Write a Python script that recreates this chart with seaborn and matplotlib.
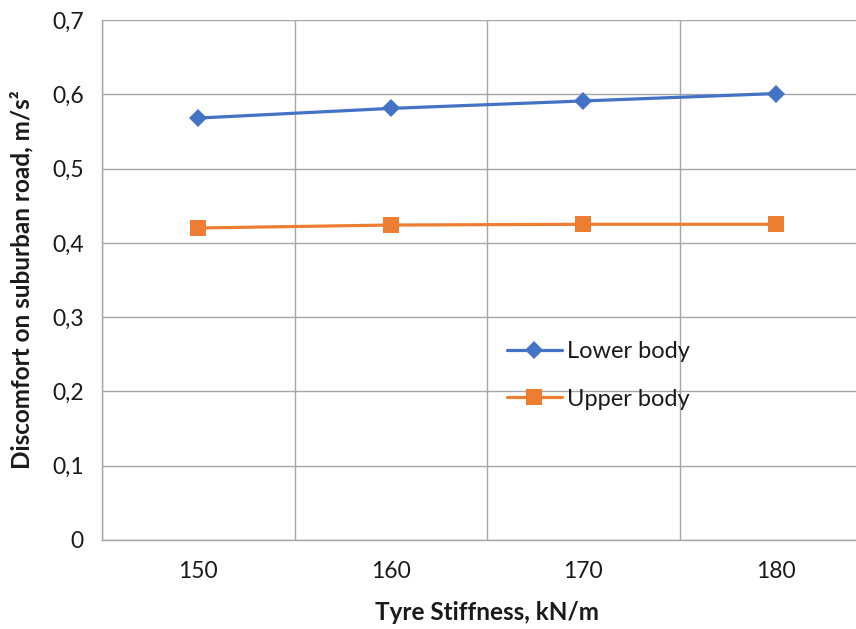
import matplotlib
matplotlib.use("Agg")
import matplotlib.pyplot as plt
import seaborn as sns
import pandas as pd
from matplotlib.ticker import FixedLocator, FixedFormatter

stiffness = [150, 160, 170, 180]
lower_body = [0.568, 0.581, 0.591, 0.601]
upper_body = [0.420, 0.424, 0.425, 0.425]
y_ticks = [0, 0.1, 0.2, 0.3, 0.4, 0.5, 0.6, 0.7]
y_tick_labels = ["0", "0,1", "0,2", "0,3", "0,4", "0,5", "0,6", "0,7"]
x_tick_labels = ["150", "160", "170", "180"]
series_names = ["Lower body", "Upper body"]

sns.set_style("white")
plt.rcParams['font.family'] = ['Lato', 'DejaVu Sans']

df = pd.DataFrame({
    "x": stiffness * 2,
    "y": lower_body + upper_body,
    "series": [series_names[0]] * 4 + [series_names[1]] * 4,
})

fig = plt.figure(figsize=(8.56, 6.29), dpi=100)
ax = fig.add_axes([102 / 856, 89 / 629, 770 / 856, 520 / 629])

blue = "#4472C4"
orange = "#ED7D31"
sns.lineplot(data=df[df.series == series_names[0]], x="x", y="y", ax=ax,
             color=blue, marker="D", markersize=9, linewidth=2.3,
             markeredgewidth=0, label=series_names[0])
sns.lineplot(data=df[df.series == series_names[1]], x="x", y="y", ax=ax,
             color=orange, marker="s", markersize=12, linewidth=2.3,
             markeredgewidth=0, label=series_names[1])

ax.set_xlim(145, 185)
ax.set_ylim(0, 0.7)
grid_color = "#A6A6A6"
text_color = "#1a1a1a"
ax.xaxis.set_major_locator(FixedLocator([145, 155, 165, 175]))
ax.xaxis.set_major_formatter(FixedFormatter(["", "", "", ""]))
ax.xaxis.set_minor_locator(FixedLocator(stiffness))
ax.xaxis.set_minor_formatter(FixedFormatter(x_tick_labels))
ax.tick_params(axis="x", which="major", length=7, width=1, color=grid_color, direction="out")
ax.tick_params(axis="x", which="minor", length=0, labelsize=16.5, pad=15, labelcolor=text_color)
ax.yaxis.set_major_locator(FixedLocator(y_ticks))
ax.yaxis.set_major_formatter(FixedFormatter(y_tick_labels))
ax.tick_params(axis="y", which="major", length=7, width=1, color=grid_color, direction="out",
               labelsize=16.5, pad=6, labelcolor=text_color)
ax.grid(True, which="major", color=grid_color, linewidth=1)
for s in ["top", "right"]:
    ax.spines[s].set_visible(False)
for s in ["left", "bottom"]:
    ax.spines[s].set_color(grid_color)
    ax.spines[s].set_linewidth(1)

ax.set_xlabel("Tyre Stiffness, kN/m", fontsize=17.5, fontweight="bold", color=text_color)
ax.set_ylabel("Discomfort on suburban road, m/s²", fontsize=17.5, fontweight="bold", color=text_color)
ax.xaxis.set_label_coords((487 - 102) / 770, -(601 - 540) / 520)
ax.yaxis.set_label_coords(-(102 - 33) / 770, (540 - 280) / 520)

leg = ax.legend(loc="upper left", bbox_to_anchor=(486 / 856, 1 - 320 / 629),
                bbox_transform=fig.transFigure, frameon=False, fontsize=17,
                handlelength=2.3, handletextpad=0.25, labelspacing=1.12)
for t in leg.get_texts():
    t.set_color(text_color)

fig.savefig("out.png", dpi=100)
